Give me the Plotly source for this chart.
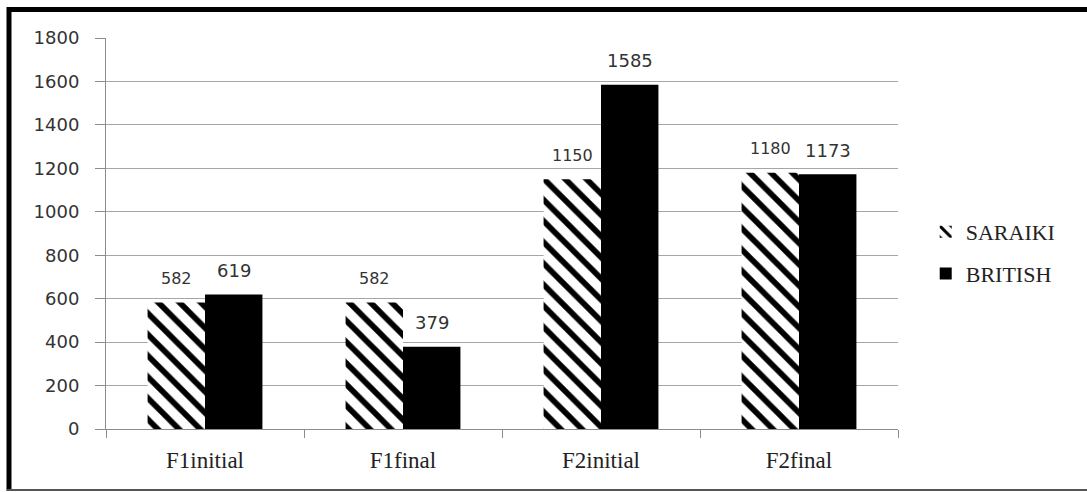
import plotly.graph_objects as go

# Formant values per position
categories = ["F1initial", "F1final", "F2initial", "F2final"]
saraiki = [582, 582, 1150, 1180]
british = [619, 379, 1585, 1173]
y_ticks = [0, 200, 400, 600, 800, 1000, 1200, 1400, 1600, 1800]

W, H = 1087, 492
M_L, M_R, M_T, M_B = 106, 189, 38, 63
BARGAP = 0.42

fig = go.Figure()
fig.add_trace(go.Bar(
    name="SARAIKI", x=categories, y=saraiki, legendgroup="s",
    marker=dict(color="white", line=dict(width=0),
                pattern=dict(shape="\\", fgcolor="black", bgcolor="white",
                             fgopacity=1, size=15, solidity=0.38)),
))
fig.add_trace(go.Bar(
    name="BRITISH", x=categories, y=british, legendgroup="b",
    marker=dict(color="black", line=dict(width=0)),
))

# Value labels centred above each bar
plot_w = W - M_L - M_R
bar_w = plot_w / len(categories) * (1 - BARGAP) / 2
label_font = {
    0: dict(family="DejaVu Sans", size=16, color="#333333"),
    1: dict(family="DejaVu Sans", size=18, color="#333333"),
}
annotations = []
for j, series in enumerate([saraiki, british]):
    for cat, val in zip(categories, series):
        annotations.append(dict(
            x=cat, y=val, xref="x", yref="y", text=str(val), showarrow=False,
            xshift=(j - 0.5) * bar_w, yshift=24, yanchor="middle",
            font=label_font[j],
        ))

# Outer frame: heavy left/top edges, thin bottom edge
def px_x(px):
    return (px - M_L) / plot_w

plot_h = H - M_T - M_B
def px_y(py):
    return (H - M_B - py) / plot_h

shapes = [
    dict(type="line", xref="paper", yref="paper", x0=px_x(9), x1=px_x(9),
         y0=px_y(7), y1=px_y(491), line=dict(color="black", width=5)),
    dict(type="line", xref="paper", yref="paper", x0=px_x(7), x1=px_x(W),
         y0=px_y(9.5), y1=px_y(9.5), line=dict(color="black", width=5)),
    dict(type="line", xref="paper", yref="paper", x0=px_x(7), x1=px_x(W),
         y0=px_y(490), y1=px_y(490), line=dict(color="#555555", width=2)),
]

fig.update_layout(
    width=W, height=H,
    margin=dict(l=M_L, r=M_R, t=M_T, b=M_B, pad=0),
    paper_bgcolor="white", plot_bgcolor="white",
    barmode="group", bargap=BARGAP, bargroupgap=0,
    showlegend=True,
    legend=dict(
        x=1.035, y=0.45, xanchor="left", yanchor="middle",
        font=dict(family="Liberation Serif", size=22, color="#222222"),
        traceorder="grouped", tracegroupgap=10,
        itemwidth=30, bgcolor="rgba(0,0,0,0)",
    ),
    annotations=annotations,
    shapes=shapes,
    xaxis=dict(
        type="category", tickson="boundaries", ticks="outside", ticklen=8,
        tickcolor="#8c8c8c", showline=True, linecolor="#8c8c8c", linewidth=1,
        showgrid=False, ticklabelstandoff=10,
        tickfont=dict(family="Liberation Serif", size=23, color="#222222"),
    ),
    yaxis=dict(
        range=[0, 1800], tickvals=y_ticks, ticks="outside", ticklen=10,
        tickcolor="#8c8c8c", showline=True, linecolor="#8c8c8c", linewidth=1,
        showgrid=True, gridcolor="#a6a6a6", gridwidth=1, zeroline=False,
        ticklabelstandoff=12,
        tickfont=dict(family="DejaVu Sans", size=18, color="#333333"),
    ),
)

fig.write_html("out.html")
